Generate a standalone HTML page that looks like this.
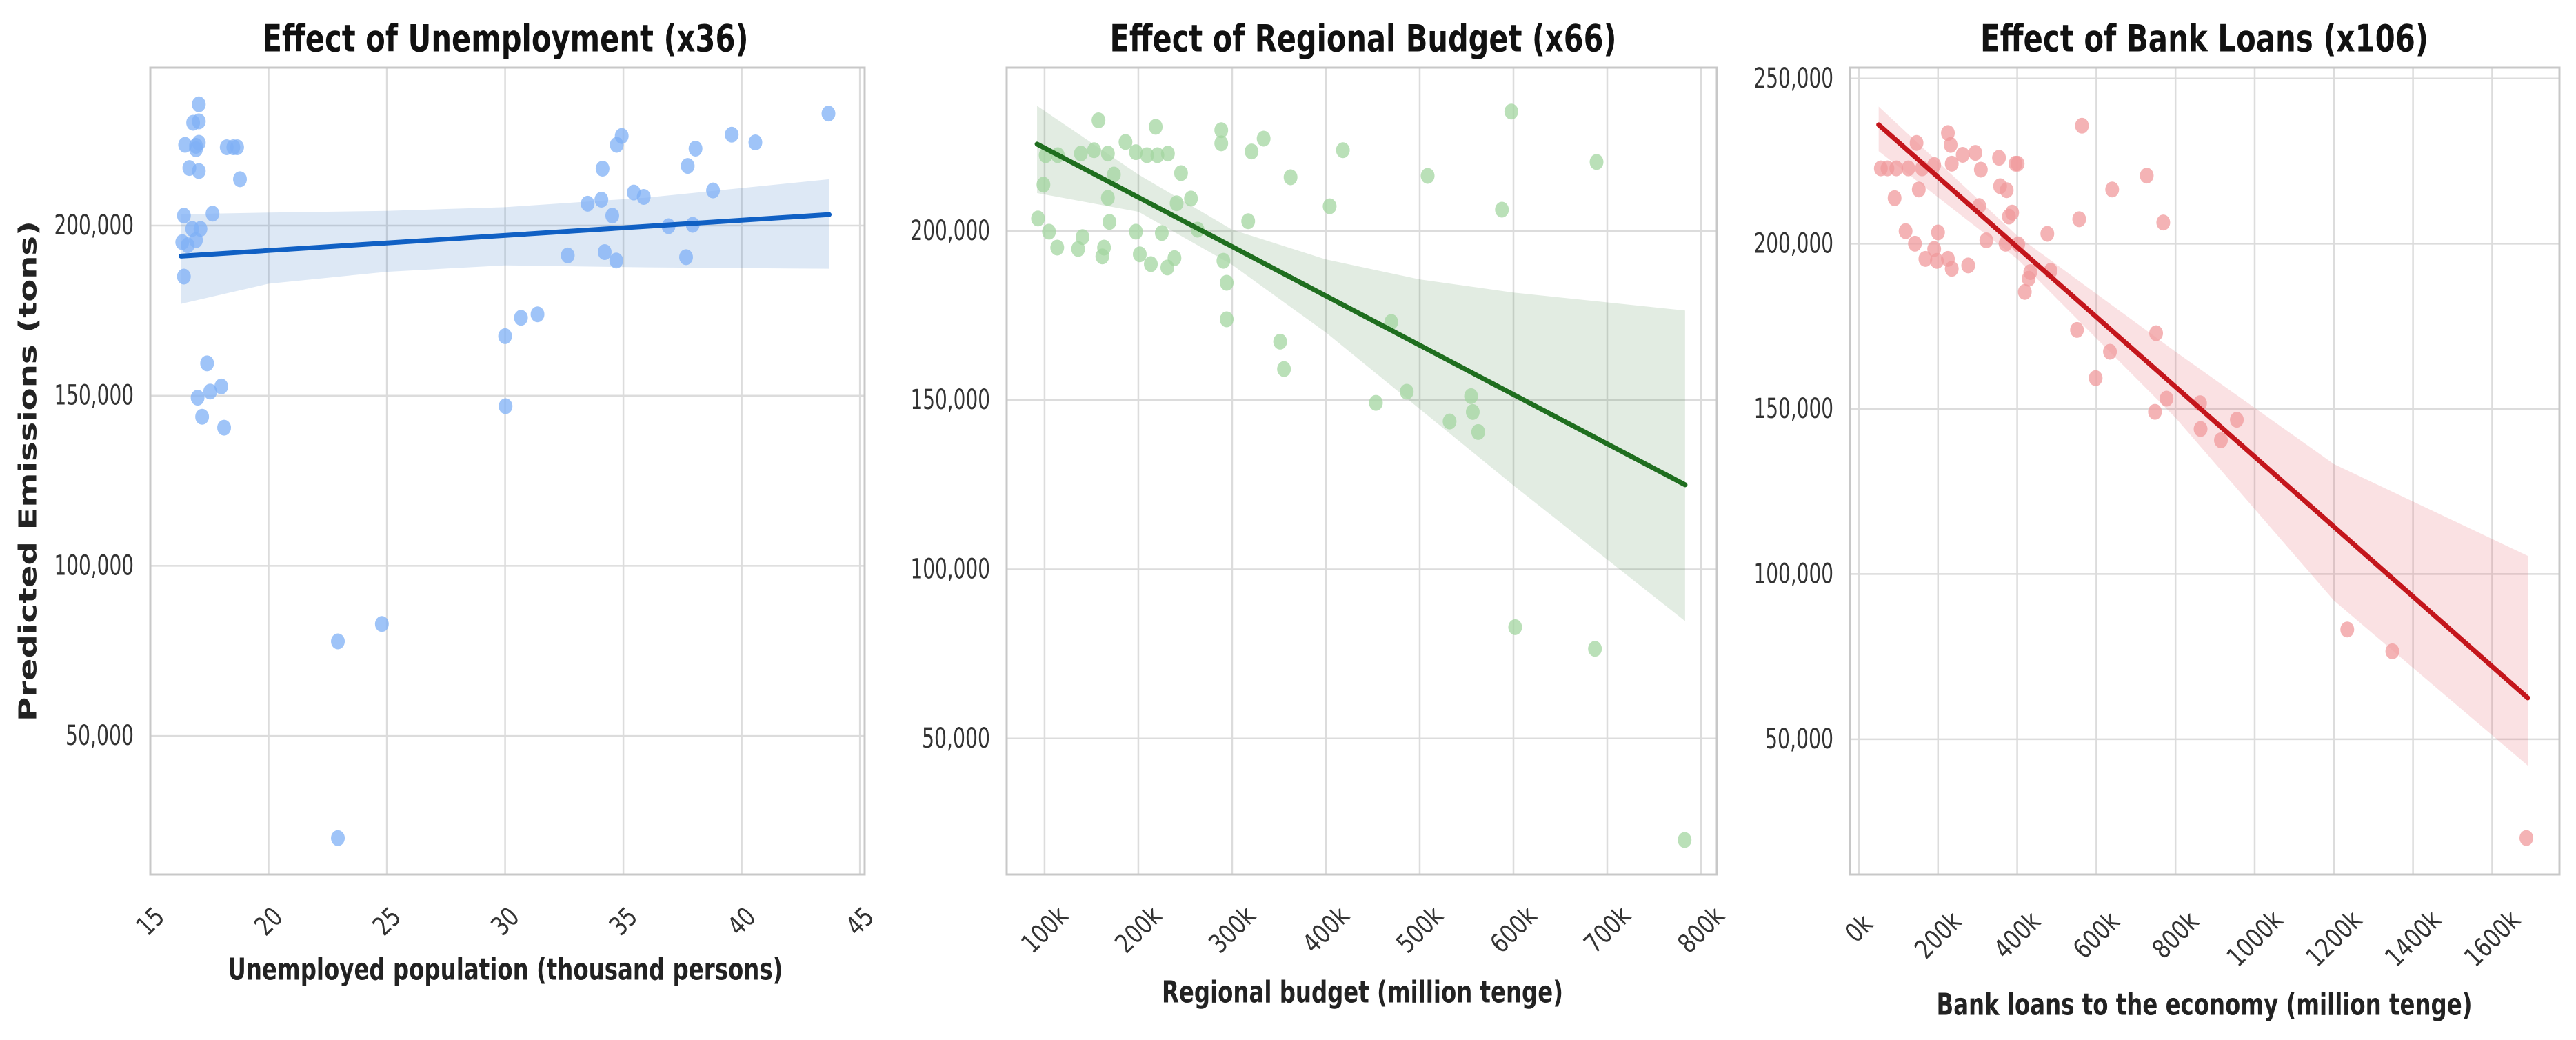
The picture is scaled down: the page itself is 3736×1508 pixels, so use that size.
<!DOCTYPE html>
<html><head><meta charset="utf-8">
<style>
html,body{margin:0;padding:0;background:#fff;}
svg{display:block;}
text{font-family:"DejaVu Sans","Liberation Sans",sans-serif;}
</style></head>
<body>
<svg id="chart" width="3736" height="1508" viewBox="0 0 3736 1508" xmlns="http://www.w3.org/2000/svg">
<rect x="0" y="0" width="3736" height="1508" fill="#fff"/>
<text x="41" y="683" transform="rotate(-90 41 683)" text-anchor="middle" dominant-baseline="central" font-size="36" font-weight="bold" fill="#222" textLength="726" lengthAdjust="spacingAndGlyphs">Predicted Emissions (tons)</text>
</svg>
<script>
// ---- Panel 1: Unemployment ----
const p1X = [17.05,16.47,16.81,17.05,16.93,17.05,16.65,17.05,16.93,18.23,18.51,18.67,18.79,16.42,17.63,17.12,16.77,16.35,16.58,16.93,16.42,17.40,17.0,17.53,18.0,17.19,18.12,22.93,24.79,22.93,30.0,30.67,31.37,30.02,32.65,33.49,34.07,34.12,34.72,34.93,34.53,34.21,34.7,35.44,35.86,36.91,37.72,38.05,37.65,37.93,38.79,39.58,40.58,43.67];
const p1Y = [235600,223700,230200,230600,223400,224300,216900,216000,222400,223000,223000,223000,213600,202900,203500,199000,199000,195100,194200,195700,185000,159500,149400,151200,152700,143800,140600,77800,82900,20000,167500,172900,173900,146900,191200,206400,207600,216700,223700,226300,202900,192200,189700,209700,208400,199800,217500,222600,190700,200200,210300,226700,224400,232900];
const p1LineX = [16.3, 43.7];
const p1LineY = [191000, 203200];
const p1CiX = [16.3, 20, 25, 30, 36, 43.7];
const p1CiHi = [203300, 203800, 204300, 205400, 208200, 213600];
const p1CiLo = [177000, 182900, 186400, 188300, 187700, 187300];
const p1XTicks = [15,20,25,30,35,40,45];
const p1XTickLabels = ["15","20","25","30","35","40","45"];
const p1YTicks = [50000,100000,150000,200000];
const p1YTickLabels = ["50,000","100,000","150,000","200,000"];

// ---- Panel 2: Regional budget ----
const p2X = [157.5,186.3,218.5,288.4,333.6,320.7,418.1,597.7,688.6,101.2,114.1,138.7,152.8,167.5,197.4,209.2,220.3,231.5,98.8,173.9,245.5,256.1,240.8,288.4,362.3,404,508.5,587.7,93,104.7,113.5,135.8,140.5,163.4,161.6,169.2,167.5,197.4,201.5,213.3,225,230.9,238.5,263.1,290.7,294.2,294.2,317.1,351.2,355.3,469.7,453.3,486.2,531.9,554.8,556.6,562.4,601.8,686.9,782.5];
const p2Y = [232700,226300,230800,229800,227300,223500,223900,235300,220400,222400,222400,222900,223900,222900,223300,222400,222400,222900,213700,216700,217100,209600,208200,225900,215900,207300,216300,206300,203700,199800,195100,194700,198200,195100,192500,202700,209800,199800,193100,190200,199400,189200,192000,200400,191200,184700,173900,202900,167300,159200,173100,149200,152500,143700,151200,146500,140600,82900,76500,20000];
const p2LineX = [92, 783];
const p2LineY = [225700, 125000];
const p2CiX = [92, 200, 300, 400, 500, 600, 783];
const p2CiHi = [237000, 216700, 200400, 191600, 185700, 181800, 176500];
const p2CiLo = [211200, 205700, 190000, 170000, 147400, 124800, 84700];
const p2XTicks = [100,200,300,400,500,600,700,800];
const p2XTickLabels = ["100k","200k","300k","400k","500k","600k","700k","800k"];
const p2YTicks = [50000,100000,150000,200000];
const p2YTickLabels = ["50,000","100,000","150,000","200,000"];

// ---- Panel 3: Bank loans ----
const p3X = [55.5,72.2,94.4,124.9,145.7,159.6,190.2,151.3,90.2,118,141.6,168,190.2,199.9,197.1,224.9,231.8,234.6,262.3,224.9,234.6,276.2,294.3,308.1,304,322,354,356.7,373.4,401.1,395.6,387.3,379,370.6,402.5,433.1,428.9,419.2,484.4,476.1,563.5,556.6,639.9,727.3,769,551,634.3,598.2,750.9,777.3,748.1,861.9,863.3,914.7,954.9,1233.9,1347.7,1686.4];
const p3Y = [222800,222800,222800,222800,230500,222800,223800,216400,213800,203800,200000,195400,198400,203400,194800,233500,229900,224200,226900,195400,192400,193400,227500,222400,211400,201000,226000,217400,216200,224200,224200,209400,208200,200000,199800,191400,189400,185400,191800,203000,235700,207400,216400,220600,206400,173900,167300,159300,172900,153100,149100,151700,143900,140500,146700,83200,76600,20100];
const p3LineX = [50, 1690];
const p3LineY = [236000, 62500];
const p3CiX = [50, 400, 800, 1200, 1690];
const p3CiHi = [241500, 202400, 167300, 133300, 105500];
const p3CiLo = [228000, 195400, 147300, 92000, 42000];
const p3XTicks = [0,200,400,600,800,1000,1200,1400,1600];
const p3XTickLabels = ["0k","200k","400k","600k","800k","1000k","1200k","1400k","1600k"];
const p3YTicks = [50000,100000,150000,200000,250000];
const p3YTickLabels = ["50,000","100,000","150,000","200,000","250,000"];

const NS = "http://www.w3.org/2000/svg";
const svg = document.getElementById('chart');
function mk(tag, attrs, parent){
  const e = document.createElementNS(NS, tag);
  for (const k in attrs) e.setAttribute(k, attrs[k]);
  (parent||svg).appendChild(e);
  return e;
}

function drawPanel(P){
  const g = mk('g', {});
  
  
  const sx = v => P.x0 + (v - P.xd[0]) / (P.xd[1] - P.xd[0]) * (P.x1 - P.x0);
  const sy = v => P.y1 - (v - P.yd[0]) / (P.yd[1] - P.yd[0]) * (P.y1 - P.y0);
  P.yTicks.forEach((t, i) => {
    const y = sy(t);
    const l = mk('line', {x1:P.x0, x2:P.x1, y1:y, y2:y, stroke:'#dcdcdc', 'stroke-width':2.5}, g);
    
    
    const tx = mk('text', {x:P.x0-24, y:y, 'text-anchor':'end', 'dominant-baseline':'central', 'font-size':40, fill:'#333', textLength: P.yTickLabels[i].length*16.5, lengthAdjust:'spacingAndGlyphs'}, g);
    tx.textContent = P.yTickLabels[i];
    
    
  });
  P.xTicks.forEach((t, i) => {
    const x = sx(t);
    const l = mk('line', {x1:x, x2:x, y1:P.y0, y2:P.y1, stroke:'#dcdcdc', 'stroke-width':2.5}, g);
    
    
    const lab = P.xTickLabels[i];
    const cy = P.y1 + P.lblOff + lab.length*5;
    const tx = mk('text', {x:x, y:cy, 'text-anchor':'middle', 'dominant-baseline':'central', 'font-size':38, fill:'#333', transform:`rotate(-45 ${x} ${cy})`, textLength: lab.length*19, lengthAdjust:'spacingAndGlyphs'}, g);
    tx.textContent = lab;
    
    
  });
  const fr = mk('rect', {x:P.x0, y:P.y0, width:P.x1-P.x0, height:P.y1-P.y0, fill:'none', stroke:'#c8c8c8', 'stroke-width':3}, g);
  
  
  let d = '';
  P.ciX.forEach((v,i) => { d += (i? 'L':'M') + sx(v) + ' ' + sy(P.ciHi[i]) + ' '; });
  for (let i = P.ciX.length-1; i >= 0; i--) d += 'L' + sx(P.ciX[i]) + ' ' + sy(P.ciLo[i]) + ' ';
  const band = mk('path', {d: d + 'Z', fill:P.band}, g);
  
  
  P.px.forEach((v,i) => {
    const c = mk('ellipse', {cx:sx(v), cy:sy(P.py[i]), rx:10, ry:11.5, fill:P.pt, 'fill-opacity':0.75}, g);
    
    
  });
  const ln = mk('line', {x1:sx(P.lx[0]), y1:sy(P.ly[0]), x2:sx(P.lx[1]), y2:sy(P.ly[1]), stroke:P.line, 'stroke-width':7, 'stroke-linecap':'round'}, g);
  
  
  const t = mk('text', {x:P.tx, y:56, 'text-anchor':'middle', 'dominant-baseline':'central', 'font-size':54, 'font-weight':'bold', fill:'#111', textLength:P.tLen, lengthAdjust:'spacingAndGlyphs'}, g);
  t.textContent = P.title;
  
  
  const xt = mk('text', {x:P.xtX, y:P.xtY, 'text-anchor':'middle', 'dominant-baseline':'central', 'font-size':44, 'font-weight':'bold', fill:'#222', textLength:P.xtLen, lengthAdjust:'spacingAndGlyphs'}, g);
  xt.textContent = P.xtitle;
  
  
}

drawPanel({name:'unemployment-panel', x0:218, x1:1254, y0:98, y1:1268, xd:[15,45.2], yd:[9300,246400],
  px:p1X, py:p1Y, lx:p1LineX, ly:p1LineY, ciX:p1CiX, ciHi:p1CiHi, ciLo:p1CiLo,
  xTicks:p1XTicks, xTickLabels:p1XTickLabels, yTicks:p1YTicks, yTickLabels:p1YTickLabels,
  pt:'#7fb0f5', line:'#1060c4', band:'rgba(30,100,190,0.15)', lblOff:58,
  title:'Effect of Unemployment (x36)', tx:733, tLen:705,
  xtitle:'Unemployed population (thousand persons)', xtX:733, xtY:1406, xtLen:805});
drawPanel({name:'regional-budget-panel', x0:1460, x1:2490, y0:98, y1:1268, xd:[59.6,816.9], yd:[9800,248300],
  px:p2X, py:p2Y, lx:p2LineX, ly:p2LineY, ciX:p2CiX, ciHi:p2CiHi, ciLo:p2CiLo,
  xTicks:p2XTicks, xTickLabels:p2XTickLabels, yTicks:p2YTicks, yTickLabels:p2YTickLabels,
  pt:'#a3d6a0', line:'#1f6e1f', band:'rgba(60,130,60,0.15)', lblOff:60,
  title:'Effect of Regional Budget (x66)', tx:1977, tLen:735,
  xtitle:'Regional budget (million tenge)', xtX:1976, xtY:1439, xtLen:582});
drawPanel({name:'bank-loans-panel', x0:2683, x1:3712, y0:98, y1:1268, xd:[-22.6,1770], yd:[9050,253300],
  px:p3X, py:p3Y, lx:p3LineX, ly:p3LineY, ciX:p3CiX, ciHi:p3CiHi, ciLo:p3CiLo,
  xTicks:p3XTicks, xTickLabels:p3XTickLabels, yTicks:p3YTicks, yTickLabels:p3YTickLabels,
  pt:'#f09a9c', line:'#c4161c', band:'rgba(225,90,100,0.18)', lblOff:68,
  title:'Effect of Bank Loans (x106)', tx:3197, tLen:650,
  xtitle:'Bank loans to the economy (million tenge)', xtX:3197, xtY:1457, xtLen:777});
</script>
</body></html>
